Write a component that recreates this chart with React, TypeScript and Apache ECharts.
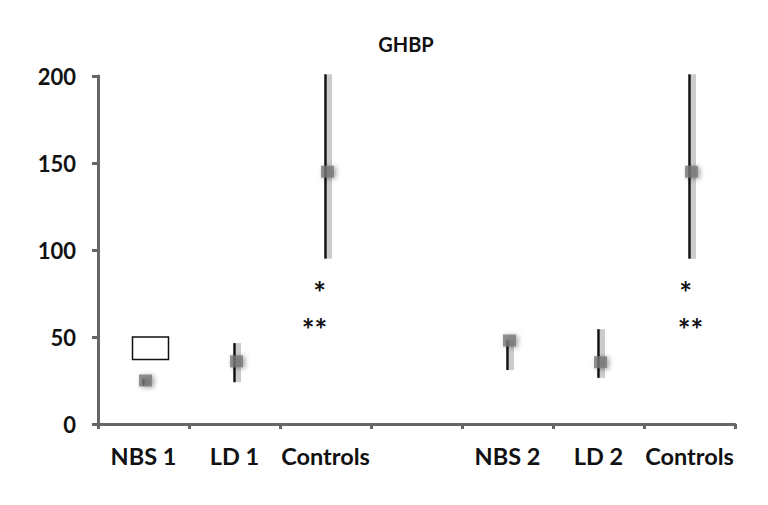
import React, { useEffect, useRef } from "react";
import * as echarts from "echarts";

const categories = ["NBS 1", "LD 1", "Controls", "", "NBS 2", "LD 2", "Controls"];
const groupIndex = [0, 1, 2, 4, 5, 6];
const meanValues = [25, 36, 145, 48, 35.5, 145];
const lowValues = [22, 24, 95, 31, 26.5, 95];
const highValues = [26, 46.5, 201, 48, 54.5, 201];
const boxIndex = [0];
const boxHigh = [50];
const boxLow = [37];
const starIndex = [2, 2, 6, 6];
const starValues = [76, 54.5, 76, 54.5];
const starTexts = ["*", "**", "*", "**"];
const starShift = [-6, -11, -4, 1];
const yTicks = [0, 50, 100, 150, 200];

const FONT = "Lato";

export default function App() {
  const ref = useRef<HTMLDivElement>(null);
  useEffect(() => {
    if (!ref.current) return;
    const chart = echarts.init(ref.current, null, { renderer: "svg" });
    chart.setOption({
      animation: false,
      backgroundColor: "#fff",
      title: {
        text: "GHBP",
        left: 401,
        top: 29,
        textAlign: "center",
        textStyle: { fontFamily: FONT, fontWeight: "bold", fontSize: 20, color: "#111" },
      },
      grid: { left: 98, right: 33, top: 76, bottom: 81 },
      xAxis: {
        type: "category",
        data: categories,
        boundaryGap: true,
        axisLine: { lineStyle: { color: "#666", width: 3 } },
        axisTick: { show: true, inside: false, length: 5, lineStyle: { color: "#666", width: 3 } },
        axisLabel: { fontFamily: FONT, fontWeight: "bold", fontSize: 23.5, color: "#111", margin: 20, interval: 0 },
        splitLine: { show: false },
      },
      yAxis: {
        type: "value",
        min: yTicks[0],
        max: yTicks[yTicks.length - 1],
        interval: 50,
        axisLine: { show: true, lineStyle: { color: "#666", width: 3 } },
        axisTick: { show: true, length: 6, lineStyle: { color: "#666", width: 3 } },
        axisLabel: { fontFamily: FONT, fontWeight: "bold", fontSize: 22, color: "#111", margin: 22 },
        splitLine: { show: false },
      },
      series: [
        {
          type: "custom",
          name: "box",
          data: boxIndex.map((x, i) => [x, boxLow[i], boxHigh[i]]),
          renderItem: (params: any, api: any) => {
            const lo = api.coord([api.value(0), api.value(1)]);
            const hi = api.coord([api.value(0), api.value(2)]);
            return {
              type: "rect",
              shape: { x: lo[0] - 11, y: hi[1], width: 36, height: lo[1] - hi[1] },
              style: { fill: "#fff", stroke: "#111", lineWidth: 1.5 },
            };
          },
          z: 2,
        },
        {
          type: "custom",
          name: "errors",
          data: groupIndex.map((x, i) => [x, lowValues[i], highValues[i]]),
          renderItem: (params: any, api: any) => {
            const lo = api.coord([api.value(0), api.value(1)]);
            const hi = api.coord([api.value(0), api.value(2)]);
            return {
              type: "group",
              children: [
                {
                  type: "line",
                  shape: { x1: lo[0] + 4, y1: lo[1], x2: hi[0] + 4, y2: hi[1] },
                  style: { stroke: "rgba(160,160,160,0.55)", lineWidth: 5 },
                },
                {
                  type: "line",
                  shape: { x1: lo[0], y1: lo[1], x2: hi[0], y2: hi[1] },
                  style: { stroke: "#111", lineWidth: 2.5 },
                },
              ],
            };
          },
          z: 3,
        },
        {
          type: "scatter",
          name: "mean",
          data: groupIndex.map((x, i) => [x, meanValues[i]]),
          symbol: "rect",
          symbolSize: [13, 12],
          symbolOffset: [2, 0],
          itemStyle: { color: "#777", shadowBlur: 5, shadowColor: "rgba(0,0,0,0.45)", shadowOffsetX: 2, shadowOffsetY: 1 },
          z: 4,
        },
        {
          type: "custom",
          name: "stars",
          data: starIndex.map((x, i) => [x, starValues[i], i]),
          renderItem: (params: any, api: any) => {
            const p = api.coord([api.value(0), api.value(1)]);
            const k = api.value(2);
            return {
              type: "text",
              x: p[0] + starShift[k],
              y: p[1],
              style: {
                text: starTexts[k],
                fontFamily: FONT,
                fontWeight: "bold",
                fontSize: 30,
                fill: "#111",
                align: "center",
                verticalAlign: "middle",
              },
            };
          },
          z: 5,
        },
      ],
    });
    return () => chart.dispose();
  }, []);
  return <div ref={ref} style={{ width: 768, height: 505, position: "absolute", left: 0, top: 0 }} />;
}
